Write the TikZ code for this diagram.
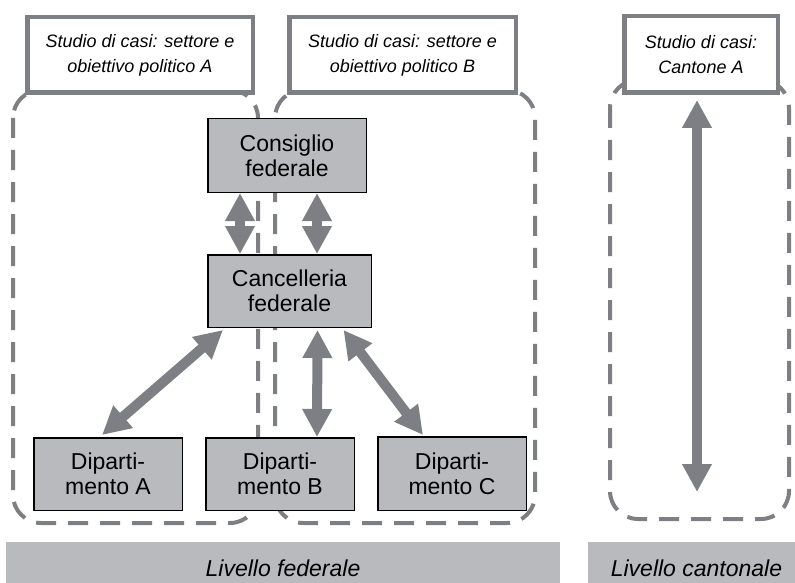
\documentclass[tikz,border=0pt]{standalone}
\usepackage{fontspec}
\setmainfont{Liberation Sans}
\usetikzlibrary{arrows.meta}
\definecolor{boxgray}{RGB}{185,186,190}
\definecolor{linegray}{RGB}{126,127,132}
\begin{document}
\begin{tikzpicture}[x=1pt,y=-1pt,
  region/.style={draw=linegray,line width=4pt,dash pattern=on 20pt off 12pt,rounded corners=28pt},
  casebox/.style={draw=linegray,line width=4.5pt,fill=white,align=center,
    font=\fontsize{18}{25}\selectfont\itshape},
  organ/.style={draw=black,line width=1.5pt,fill=boxgray,align=center,
    font=\fontsize{23}{25}\selectfont},
  flow/.style={draw=linegray,line width=10pt,
    {Triangle[width=28pt,length=28pt]}-{Triangle[width=28pt,length=28pt]}},
  levelbar/.style={fill=boxgray,inner sep=0pt}]
\useasboundingbox (0,0) rectangle (795,583);
% perimetri degli studi di casi
\draw[region] (13,90) rectangle (258,523);
\draw[region] (275,90) rectangle (535,523);
\draw[region] (610,80) rectangle (789,519);
% studi di casi
\node[casebox,minimum width=225.5pt,minimum height=75.5pt] (caseA) at (140,55)
  {Studio di casi: settore e\\obiettivo politico A};
\node[casebox,minimum width=226.5pt,minimum height=75.5pt] (caseB) at (402.5,55)
  {Studio di casi: settore e\\obiettivo politico B};
\node[casebox,minimum width=153.5pt,minimum height=76.5pt] (cant) at (701,54.5)
  {Studio di casi:\\Cantone A};
% organi federali
\node[organ,minimum width=158.5pt,minimum height=73.5pt] (cons) at (287,155.5) {Consiglio\\federale};
\node[organ,minimum width=163.5pt,minimum height=72.5pt] (canc) at (289.5,291) {Cancelleria\\federale};
\node[organ,minimum width=148.5pt,minimum height=72.5pt] (depA) at (108,474) {Diparti-\\mento A};
\node[organ,minimum width=148.5pt,minimum height=72.5pt] (depB) at (280,474) {Diparti-\\mento B};
\node[organ,minimum width=148.5pt,minimum height=73.5pt] (depC) at (452,473.5) {Diparti-\\mento C};
% relazioni
\draw[flow] ([xshift=-47pt]cons.south) -- ([xshift=-47pt]cons.south |- canc.north);
\draw[flow] ([xshift=30pt]cons.south) -- ([xshift=30pt]cons.south |- canc.north);
\draw[flow] ([xshift=16pt,yshift=-2pt]canc.south west) -- ([xshift=-6pt,yshift=2pt]depA.north);
\draw[flow] ([xshift=28pt,yshift=-2pt]canc.south) -- ([xshift=37pt]depB.north);
\draw[flow] ([xshift=54pt,yshift=-2pt]canc.south) -- ([xshift=-29pt,yshift=1pt]depC.north);
\coordinate (cantend) at (697,492);
\draw[flow] ([yshift=-5pt]cant.south -| cantend) -- (cantend);
% livelli
\fill[boxgray] (6,542) rectangle (560,583);
\fill[boxgray] (588,542) rectangle (795,583);
\node[font=\fontsize{23}{25}\selectfont\itshape,anchor=base] (fed) at (283,576) {Livello federale};
\node[font=\fontsize{23}{25}\selectfont\itshape,anchor=base] (cantlev) at (696.5,576) {Livello cantonale};
\end{tikzpicture}
\end{document}
